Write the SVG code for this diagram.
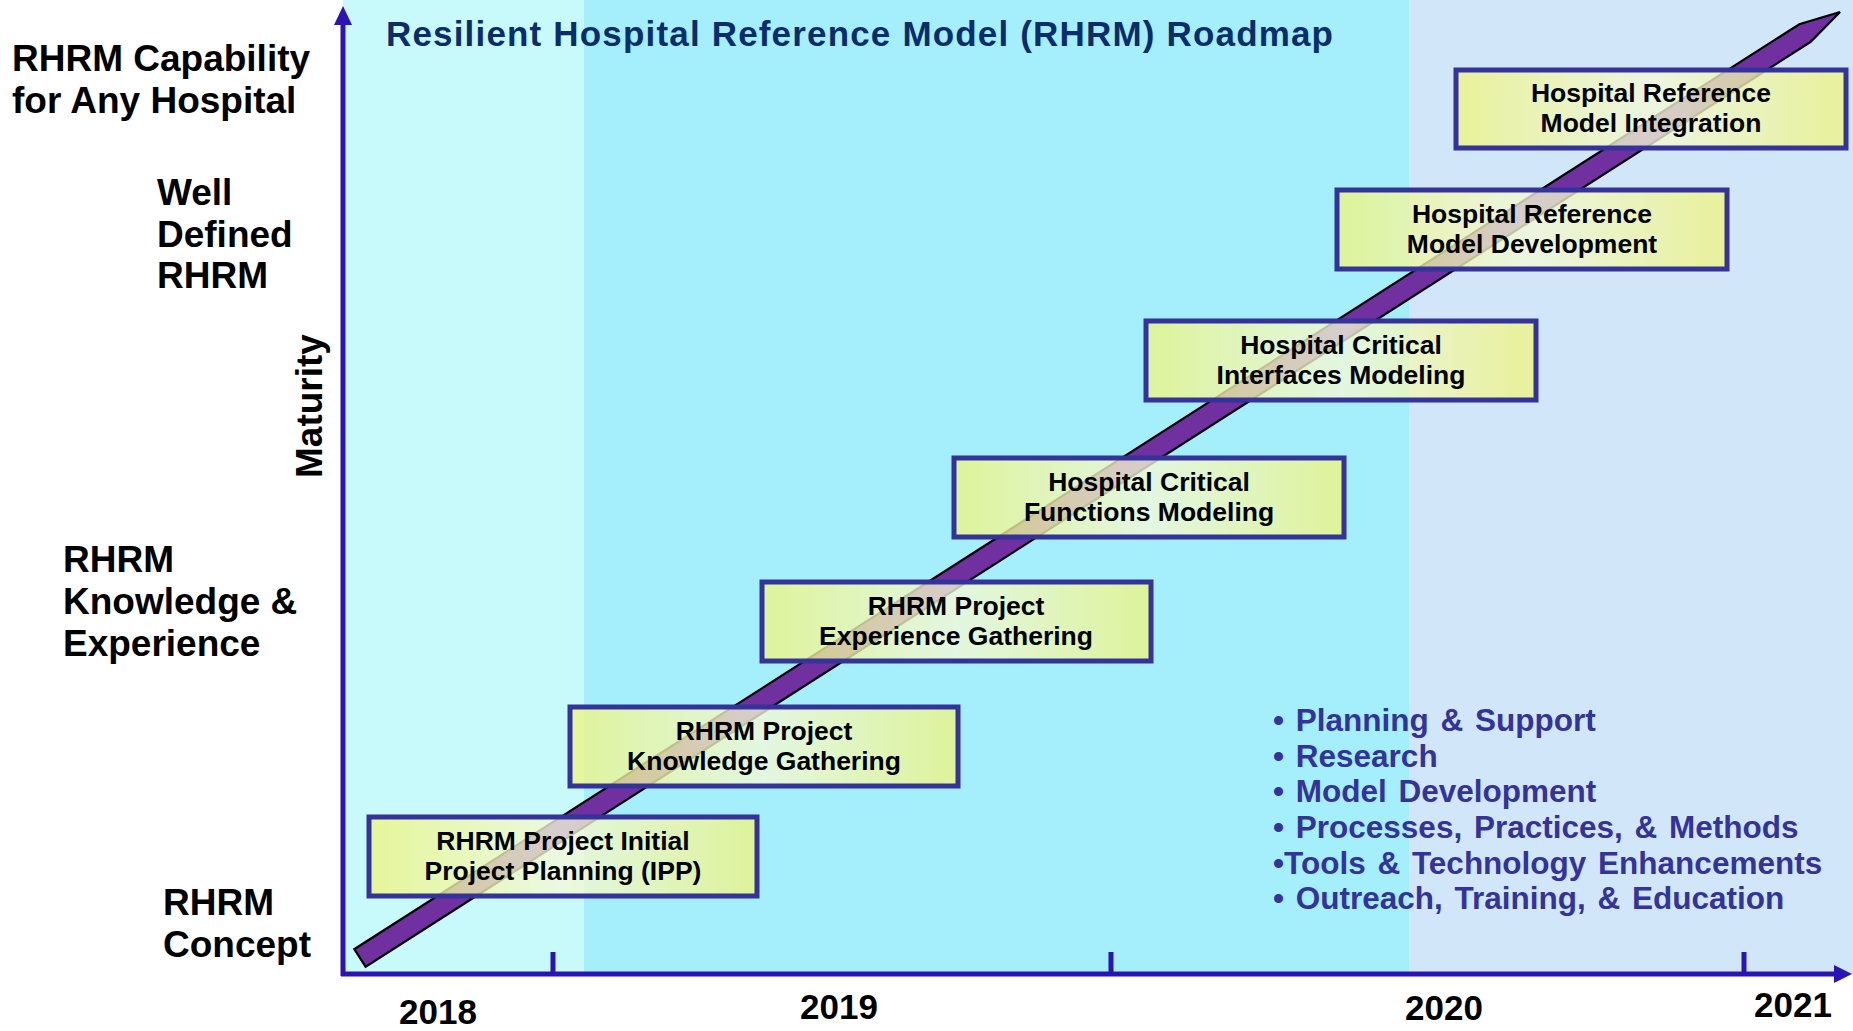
<svg xmlns="http://www.w3.org/2000/svg" width="1853" height="1031" viewBox="0 0 1853 1031">
<defs>
<linearGradient id="boxFill" x1="0" y1="0" x2="1" y2="0">
<stop offset="0" stop-color="#EEF57E"/>
<stop offset="0.5" stop-color="#F4F9DA"/>
<stop offset="1" stop-color="#EEF47E"/>
</linearGradient>
<style>
text{font-family:"Liberation Sans",Arial,sans-serif;font-weight:bold}
.lbl{font-size:37px;fill:#000}
.yr{font-size:35px;fill:#000;text-anchor:middle}
.box rect{fill:url(#boxFill);fill-opacity:0.78;stroke:#333399;stroke-width:5}
.box text{font-size:26.5px;fill:#000;text-anchor:middle}
.bul{font-size:31.5px;fill:#333399;word-spacing:3px}
.axis{stroke:#2A14B4;stroke-width:5;fill:none}
.head{fill:#2A14B4}
</style>
</defs>
<rect x="0" y="0" width="1853" height="1031" fill="#FFFFFF"/>
<g id="bands">
<rect x="343" y="0" width="241" height="974" fill="#C8FAFC"/>
<rect x="584" y="0" width="825" height="974" fill="#A5EEFB"/>
<rect x="1409" y="0" width="444" height="974" fill="#D2E6FA"/>
</g>
<text x="386" y="46" font-size="35" fill="#0B2D6B" textLength="947" lengthAdjust="spacing">Resilient Hospital Reference Model (RHRM) Roadmap</text>
<g id="level-labels">
<text class="lbl" x="12" y="71">RHRM Capability</text>
<text class="lbl" x="12" y="113">for Any Hospital</text>
<text class="lbl" x="157" y="205">Well</text>
<text class="lbl" x="157" y="247">Defined</text>
<text class="lbl" x="157" y="288">RHRM</text>
<text class="lbl" x="63" y="572">RHRM</text>
<text class="lbl" x="63" y="614">Knowledge &amp;</text>
<text class="lbl" x="63" y="656">Experience</text>
<text class="lbl" x="163" y="915">RHRM</text>
<text class="lbl" x="163" y="957">Concept</text>
<text class="lbl" transform="translate(322,406) rotate(-90)" text-anchor="middle" font-size="34">Maturity</text>
</g>
<g id="progress-arrow">
<polygon points="365.7,966.8 354.3,949.2 1799.3,24.2 1840,12 1810.7,41.8" fill="#7030A0" stroke="#000" stroke-width="2.2" stroke-linejoin="miter"/>
</g>
<g id="box-ipp" class="box">
<rect x="369" y="817" width="388" height="79"/>
<text x="563" y="850">RHRM Project Initial</text>
<text x="563" y="880">Project Planning (IPP)</text>
</g>
<g id="box-knowledge" class="box">
<rect x="570" y="707" width="388" height="79"/>
<text x="764" y="740">RHRM Project</text>
<text x="764" y="770">Knowledge Gathering</text>
</g>
<g id="box-experience" class="box">
<rect x="762" y="582" width="389" height="79"/>
<text x="956" y="615">RHRM Project</text>
<text x="956" y="645">Experience Gathering</text>
</g>
<g id="box-functions" class="box">
<rect x="954" y="458" width="390" height="79"/>
<text x="1149" y="491">Hospital Critical</text>
<text x="1149" y="521">Functions Modeling</text>
</g>
<g id="box-interfaces" class="box">
<rect x="1146" y="321" width="390" height="79"/>
<text x="1341" y="354">Hospital Critical</text>
<text x="1341" y="384">Interfaces Modeling</text>
</g>
<g id="box-development" class="box">
<rect x="1337" y="190" width="390" height="79"/>
<text x="1532" y="223">Hospital Reference</text>
<text x="1532" y="253">Model Development</text>
</g>
<g id="box-integration" class="box">
<rect x="1456" y="70" width="390" height="78"/>
<text x="1651" y="102">Hospital Reference</text>
<text x="1651" y="132">Model Integration</text>
</g>
<g id="connectors">
<line class="axis" x1="343" y1="976" x2="343" y2="22"/>
<polygon class="head" points="343,6 334,25 352,25"/>
<line class="axis" x1="341" y1="974" x2="1836" y2="974"/>
<polygon class="head" points="1852,974 1834,965 1834,983"/>
<line class="axis" x1="553" y1="952" x2="553" y2="974"/>
<line class="axis" x1="1111" y1="952" x2="1111" y2="974"/>
<line class="axis" x1="1744" y1="952" x2="1744" y2="974"/>
</g>
<g id="years">
<text class="yr" x="438" y="1024">2018</text>
<text class="yr" x="839" y="1019">2019</text>
<text class="yr" x="1444" y="1020">2020</text>
<text class="yr" x="1793" y="1017">2021</text>
</g>
<g id="activities">
<text class="bul" x="1273" y="731">• Planning &amp; Support</text>
<text class="bul" x="1273" y="767">• Research</text>
<text class="bul" x="1273" y="802">• Model Development</text>
<text class="bul" x="1273" y="838">• Processes, Practices, &amp; Methods</text>
<text class="bul" x="1273" y="874">•Tools &amp; Technology Enhancements</text>
<text class="bul" x="1273" y="909">• Outreach, Training, &amp; Education</text>
</g>
</svg>
